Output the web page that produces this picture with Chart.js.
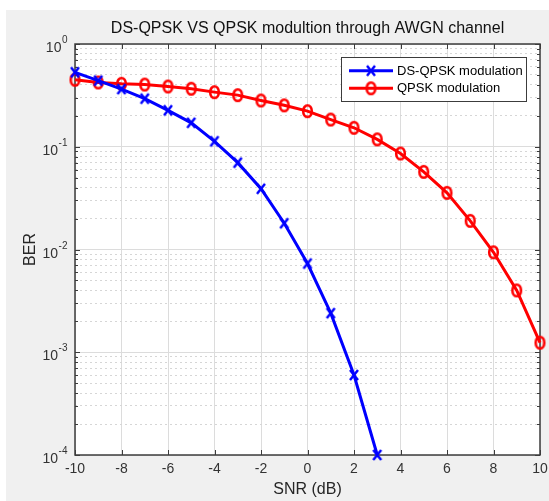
<!DOCTYPE html>
<html><head><meta charset="utf-8">
<script src="https://cdn.jsdelivr.net/npm/chart.js@4/dist/chart.umd.min.js"></script>
<style>
html,body{margin:0;padding:0;background:#fff;}
#wrap{position:absolute;left:6px;top:10px;width:543px;height:491px;background:#f0f0f0;}
canvas{display:block;}
</style></head><body>
<div id="wrap"><canvas id="c" width="543" height="491"></canvas></div>
<script>
// ---- data ----
const snrDs = [-10,-9,-8,-7,-6,-5,-4,-3,-2,-1,0,1,2,3];
const berDs = [0.53,0.44,0.364,0.294,0.226,0.171,0.113,0.070,0.039,0.018,0.0073,0.0024,0.0006,0.0001];
const snrQ = [-10,-9,-8,-7,-6,-5,-4,-3,-2,-1,0,1,2,3,4,5,6,7,8,9,10];
const berQ = [0.449,0.422,0.41,0.403,0.386,0.367,0.34,0.318,0.282,0.253,0.222,0.184,0.153,0.118,0.086,0.057,0.0356,0.019,0.0094,0.004,0.00124];
const xTicks = [-10,-8,-6,-4,-2,0,2,4,6,8,10];
const yDecades = [-4,-3,-2,-1,0];
const yMantissas = [1,2,3,4,5,6,7,8,9];
const seriesLabels = ['DS-QPSK modulation','QPSK modulation'];
const titleText = 'DS-QPSK VS QPSK modultion through AWGN channel';
const xTitle = 'SNR (dB)';
const yTitle = 'BER';

const FAM = '"Liberation Sans", Arial, sans-serif';
Chart.defaults.font.family = FAM;

const isDecade = v => Math.abs(Math.log10(v) - Math.round(Math.log10(v))) < 1e-9;

// marker sprites (slightly tall, as in the reference)
function makeCross(color){
  const c = document.createElement('canvas'); c.width = 12; c.height = 14;
  const g = c.getContext('2d');
  g.strokeStyle = color; g.lineWidth = 2.5; g.lineCap = 'butt';
  g.beginPath();
  g.moveTo(2, 2); g.lineTo(10, 12);
  g.moveTo(2, 12); g.lineTo(10, 2);
  g.stroke();
  return c;
}
function makeRing(color){
  const c = document.createElement('canvas'); c.width = 13; c.height = 16;
  const g = c.getContext('2d');
  g.strokeStyle = color; g.lineWidth = 2.6;
  g.beginPath();
  g.ellipse(6.5, 8, 4.3, 5.8, 0, 0, Math.PI * 2);
  g.stroke();
  return c;
}
const crossImg = makeCross('#0000ff');
const ringImg = makeRing('#ff0000');

function buildYTicks(){
  const t = [];
  yDecades.forEach((e, i) => {
    yMantissas.forEach(m => {
      if (i === yDecades.length - 1 && m > 1) return;
      t.push({value: m * Math.pow(10, e)});
    });
  });
  return t;
}

const bgPlugin = {
  id: 'bg',
  beforeDraw(chart){
    const a = chart.chartArea, ctx = chart.ctx;
    ctx.save(); ctx.fillStyle = '#ffffff';
    ctx.fillRect(a.left, a.top, a.right - a.left, a.bottom - a.top);
    ctx.restore();
  }
};

const framePlugin = {
  id: 'frame',
  beforeDatasetsDraw(chart){
    const a = chart.chartArea, ctx = chart.ctx;
    const xs = chart.scales.x, ys = chart.scales.y;
    ctx.save();
    ctx.strokeStyle = '#3c3c3c'; ctx.lineWidth = 1;
    ctx.beginPath();
    xs.ticks.forEach(t => {
      const px = Math.round(xs.getPixelForValue(t.value)) + 0.5;
      ctx.moveTo(px, a.bottom); ctx.lineTo(px, a.bottom - 5);
      ctx.moveTo(px, a.top); ctx.lineTo(px, a.top + 5);
    });
    ys.ticks.forEach(t => {
      const py = Math.round(ys.getPixelForValue(t.value)) + 0.5;
      const L = isDecade(t.value) ? 5 : 3;
      ctx.moveTo(a.left, py); ctx.lineTo(a.left + L, py);
      ctx.moveTo(a.right, py); ctx.lineTo(a.right - L, py);
    });
    ctx.stroke();
    ctx.lineWidth = 1.5; ctx.strokeStyle = '#3c3c3c';
    ctx.strokeRect(a.left, a.top, a.right - a.left, a.bottom - a.top);
    // y tick labels with superscript exponents
    ctx.fillStyle = '#333';
    const xr = 61.5;
    yDecades.forEach(e => {
      const py = ys.getPixelForValue(Math.pow(10, e));
      const exp = String(e);
      ctx.font = '10px ' + FAM;
      const ew = ctx.measureText(exp).width;
      ctx.textAlign = 'left'; ctx.textBaseline = 'alphabetic';
      ctx.fillText(exp, xr - ew, py - 1);
      ctx.font = '14px ' + FAM;
      ctx.textAlign = 'right';
      ctx.fillText('10', xr - ew - 0.5, py + 8);
    });
    ctx.restore();
  }
};

const legendPlugin = {
  id: 'boxlegend',
  afterDatasetsDraw(chart){
    const a = chart.chartArea, ctx = chart.ctx;
    const w = 185, h = 44;
    const bx = a.right - 14 - w, by = a.top + 13;
    ctx.save();
    ctx.fillStyle = '#fff'; ctx.fillRect(bx, by, w, h);
    ctx.strokeStyle = '#3c3c3c'; ctx.lineWidth = 1;
    ctx.strokeRect(bx + 0.5, by + 0.5, w, h);
    chart.data.datasets.forEach((ds, i) => {
      const cy = by + 13.7 + i * 17.6;
      const x0 = bx + 8, x1 = bx + 52, mx = (x0 + x1) / 2;
      ctx.strokeStyle = ds.borderColor; ctx.lineWidth = ds.borderWidth;
      ctx.beginPath(); ctx.moveTo(x0, cy); ctx.lineTo(x1, cy); ctx.stroke();
      const img = ds.pointStyle;
      ctx.drawImage(img, mx - img.width / 2, cy - img.height / 2);
      ctx.fillStyle = '#000'; ctx.font = '13px ' + FAM;
      ctx.textAlign = 'left'; ctx.textBaseline = 'middle';
      ctx.fillText(ds.label, bx + 56, cy + 0.5);
    });
    ctx.restore();
  }
};

new Chart(document.getElementById('c'), {
  type: 'line',
  data: {
    datasets: [
      {
        label: seriesLabels[0],
        data: snrDs.map((x, i) => ({x: x, y: berDs[i]})),
        borderColor: '#0000ff', backgroundColor: '#0000ff',
        borderWidth: 3, tension: 0, clip: false,
        pointStyle: crossImg, pointRadius: 6
      },
      {
        label: seriesLabels[1],
        data: snrQ.map((x, i) => ({x: x, y: berQ[i]})),
        borderColor: '#ff0000', backgroundColor: '#ff0000',
        borderWidth: 3, tension: 0, clip: false,
        pointStyle: ringImg, pointRadius: 6
      }
    ]
  },
  options: {
    responsive: false, animation: false, devicePixelRatio: 1,
    layout: {padding: {top: 0, right: 7, bottom: 0, left: 0}},
    plugins: {
      legend: {display: false}, tooltip: {enabled: false},
      title: {
        display: true, text: titleText, fullSize: false, color: '#111',
        font: {size: 16, weight: 'normal', family: FAM},
        padding: {top: 9, bottom: 5.8}
      }
    },
    scales: {
      x: {
        type: 'linear', min: -10, max: 10,
        afterBuildTicks: s => { s.ticks = xTicks.map(v => ({value: v})); },
        ticks: {color: '#333', font: {size: 14}, padding: 6, maxRotation: 0, autoSkip: false,
                callback: v => String(v)},
        grid: {color: '#dcdcdc', lineWidth: 1, drawTicks: false},
        border: {display: false},
        title: {display: true, text: xTitle, color: '#262626', font: {size: 16}, padding: {top: 0, bottom: 1.4}},
        afterFit: s => { s.height = 46; s.paddingLeft = 0; s.paddingRight = 0; }
      },
      y: {
        type: 'logarithmic', min: 1e-4, max: 1,
        afterBuildTicks: s => { s.ticks = buildYTicks(); },
        ticks: {display: false},
        grid: {
          color: c => (c.tick && isDecade(c.tick.value)) ? '#dcdcdc' : '#d6d6d6',
          lineWidth: 1, drawTicks: false
        },
        border: {display: false, dash: c => (c.tick && isDecade(c.tick.value)) ? [] : [2, 3]},
        title: {display: true, text: yTitle, color: '#262626', font: {size: 16}, padding: {top: 15.4, bottom: 0}},
        afterFit: s => { s.width = 69; s.paddingTop = 0; s.paddingBottom = 0; }
      }
    }
  },
  plugins: [bgPlugin, framePlugin, legendPlugin]
});
</script>
</body></html>
